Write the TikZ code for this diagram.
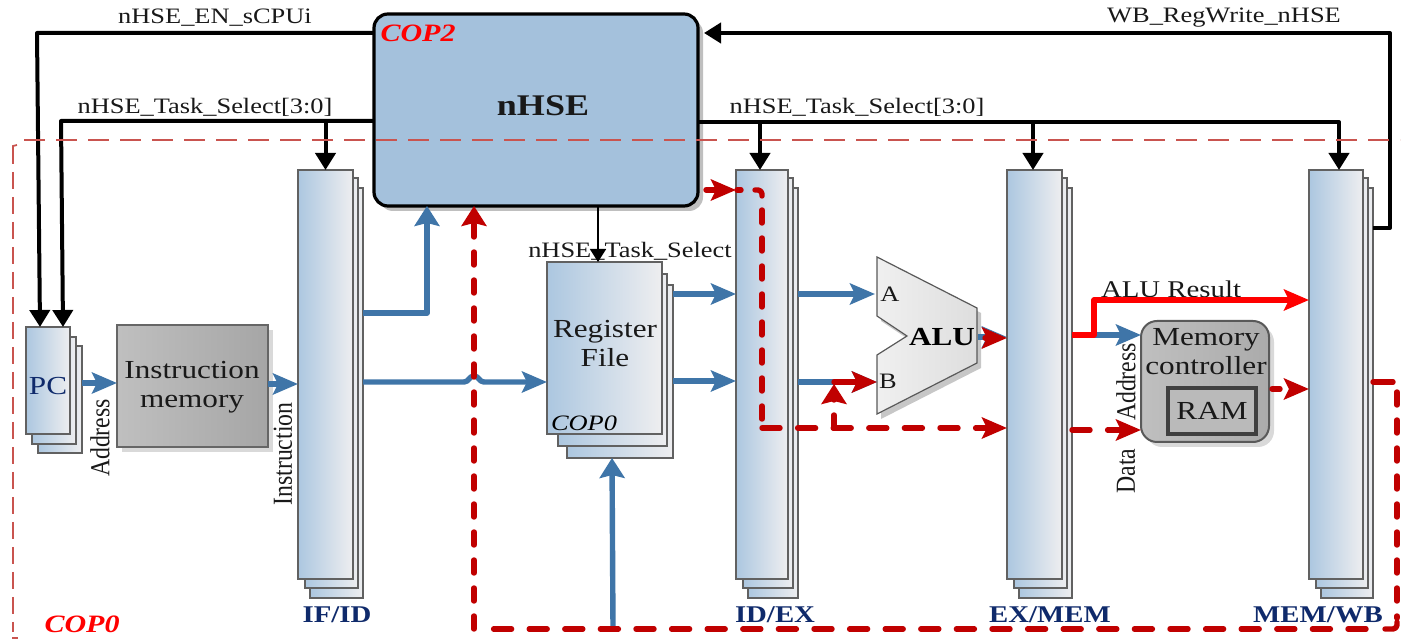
\documentclass[tikz,border=0pt]{standalone}
\usepackage{fontspec}
\setmainfont[FakeStretch=1.2]{Liberation Serif}
\newfontfamily\plainf{Liberation Serif}
\usetikzlibrary{arrows.meta,shadows}
\definecolor{bluearrow}{HTML}{3F75A8}
\definecolor{darkred}{HTML}{C00000}
\definecolor{purered}{HTML}{FF0000}
\definecolor{borderred}{HTML}{C9544F}
\definecolor{navy}{HTML}{0F2A6B}
\definecolor{nhsefill}{HTML}{A4C1DC}
\definecolor{regleft}{HTML}{ACC7E0}
\definecolor{regright}{HTML}{EEEEF0}
\newcommand{\bx}[6][]{%
  \pgfmathsetmacro{\bw}{((#4)-(#2))*0.5}\pgfmathsetmacro{\bh}{((#5)-(#3))*0.5}%
  \pgfmathsetmacro{\bcx}{((#4)+(#2))/2}\pgfmathsetmacro{\bcy}{((#5)+(#3))/2}%
  \node[minimum width=\bw pt,minimum height=\bh pt,inner sep=0pt,outer sep=0pt,#1] (#6) at (\bcx,\bcy) {};}
\newcommand{\stk}[3]{%
  \bx[layer]{#2+12}{188}{#2+#3+10}{598}{#1c}
  \bx[layer]{#2+7}{178}{#2+#3+5}{588}{#1b}
  \bx[layer]{#2}{170}{#2+#3}{579}{#1}}
\newcommand{\rottext}[1]{\plainf\scalebox{1.08}[1.25]{#1}}
\tikzset{
  layer/.style={draw=black!62,line width=0.7pt,left color=regleft,right color=regright},
  graybox/.style={draw=black!60,line width=0.6pt,left color=black!25,right color=black!35,drop shadow={shadow xshift=2.5pt,shadow yshift=-2.5pt,opacity=1,fill=black!15}},
  lbl/.style={font=\fontsize{11pt}{12pt}\selectfont,inner sep=0pt,text=black!90},
  big/.style={font=\fontsize{13pt}{14.5pt}\selectfont,inner sep=0pt,align=center,text=black!90},
  stage/.style={font=\fontsize{12pt}{13pt}\selectfont\bfseries,inner sep=0pt,text=navy},
  cop/.style={font=\fontsize{12.5pt}{13pt}\selectfont\bfseries\itshape,inner sep=0pt,text=purered},
  blk/.style={draw=black,line width=2pt,line join=round,-{Triangle[length=8.5pt,width=10pt]}},
  blu/.style={draw=bluearrow,line width=2.7pt,line join=round,-{Stealth[length=12.5pt,width=10.5pt,inset=2.5pt]}},
  bluv/.style={draw=bluearrow,line width=2.7pt,line join=round,-{Stealth[length=10pt,width=12.5pt,inset=1.5pt]}},
  rd/.style={draw=purered,line width=2.7pt,line join=round,-{Stealth[length=12.5pt,width=10.5pt,inset=2.5pt]}},
  drbase/.style={draw=darkred,line width=2.7pt,line join=round,line cap=round},
  drv/.style={drbase,dash pattern=on 6.5pt off 7.5pt},
  drh/.style={drbase,dash pattern=on 9pt off 8.8pt},
  redhead/.style={-{Stealth[length=12.5pt,width=10.5pt,inset=2.5pt,color=darkred]}},
  redheadv/.style={-{Stealth[length=10pt,width=12.5pt,inset=1.5pt,color=darkred]}},
  bordline/.style={draw=borderred,line width=0.9pt},
}
\begin{document}
\begin{tikzpicture}[x=0.5pt,y=-0.5pt]
\useasboundingbox (0,0) rectangle (1408,640);
% registers
\bx[layer]{38}{346}{82}{453}{pcc}
\bx[layer]{32}{337}{76}{444}{pcb}
\bx[layer]{26}{327}{70}{434}{pc}
\stk{ifid}{298}{55}
\stk{idex}{736}{52}
\stk{exmem}{1007}{55}
\stk{memwb}{1309}{54}
\bx[layer]{567}{285}{673}{458}{rfc}
\bx[layer]{558}{274}{667}{446}{rfb}
\bx[layer]{547}{262}{662}{434}{rf}
\bx[graybox]{117}{325}{268}{447}{imem}
% nHSE
\bx[draw=black,line width=1.6pt,rounded corners=7pt,fill=nhsefill,drop shadow={shadow xshift=2.5pt,shadow yshift=-2.5pt,opacity=1,fill=black!25}]{374}{14}{698}{206}{nhse}
% ALU
\fill[black!22] (881,262) -- (981,313) -- (981,368) -- (881,419) -- (881,360) -- (911,341) -- (881,321) -- cycle;
\shade[left color=black!6,right color=black!13,draw=black!65,line width=0.6pt] (877,257) -- (977,308) -- (977,363) -- (877,414) -- (877,355) -- (907,336) -- (877,316) -- cycle;
\coordinate (aluA) at (875,294);
\coordinate (aluB) at (877,382);
\coordinate (aluOut) at (978,337);
% Memory controller
\bx[draw=black!65,line width=1pt,rounded corners=8pt,left color=black!25,right color=black!33,drop shadow={shadow xshift=2.5pt,shadow yshift=-2.5pt,opacity=1,fill=black!15}]{1141}{321}{1269}{442}{mc}
\bx[draw=black!75,line width=1.6pt,fill=black!27]{1168}{388}{1256}{434}{ram}
% labels
\node[lbl] (l1) at (215,18) {nHSE\_EN\_sCPUi};
\node[lbl] (l2) at (205,107) {nHSE\_Task\_Select[3:0]};
\node[lbl] (l3) at (857,107) {nHSE\_Task\_Select[3:0]};
\node[lbl] (l4) at (1224,18) {WB\_RegWrite\_nHSE};
\node[lbl] (l5) at (630,251) {nHSE\_Task\_Select};
\node[cop] (c2) at (418,33) {COP2};
\node[cop] (c0) at (82,624) {COP0};
\node[font=\fontsize{15pt}{16pt}\selectfont\bfseries,inner sep=0pt,text=black!90] (nh) at (543,106) {nHSE};
\node[stage] (s1) at (337,615) {IF/ID};
\node[stage] (s2) at (775,615) {ID/EX};
\node[stage] (s3) at (1050,615) {EX/MEM};
\node[stage] (s4) at (1318,615) {MEM/WB};
\node[big,text=navy] (pct) at (48,386) {PC};
\node[lbl,rotate=90] (a1) at (100,438) {\rottext{Address}};
\node[lbl,rotate=90] (i1) at (283,454) {\rottext{Instruction}};
\node[big] (imt) at (192,387) {Instruction\\memory};
\node[big] (rft) at (605,344) {Register\\File};
\node[font=\fontsize{11pt}{12pt}\selectfont\itshape,inner sep=0pt] (rfc0) at (584,423) {COP0};
\node[font=\fontsize{13pt}{14pt}\selectfont\bfseries,inner sep=0pt] (alut) at (942,337) {ALU};
\node[lbl] (la) at (890,294) {A};
\node[lbl] (lb) at (888,381) {B};
\node[lbl,font=\fontsize{12pt}{13pt}\selectfont] (lr) at (1171,289) {ALU Result};
\node[big] (mct) at (1206,352) {Memory\\controller};
\node[big] (ramt) at (1212,411) {RAM};
\node[lbl,rotate=90] (a2) at (1126,382) {\rottext{Address}};
\node[lbl,rotate=90] (d2) at (1126,471) {\rottext{Data}};
% black connectors
\coordinate (busA) at (760,122);
\coordinate (busB) at (1033,122);
\draw[blk] (nhse.west |- 0,33) -- (37,33) -- (pc.north -| 40,0);
\draw[blk] (nhse.west |- 0,121) -- (61,121) -- (pc.north -| 63,0);
\draw[blk] (ifid.north |- 0,121) -- (ifid.north);
\draw[blk] (nhse.east |- 0,122) -- (1339,122) -- (memwb.north -| 1339,0);
\draw[blk] (busA) -- (idex.north -| busA);
\draw[blk] (busB) -- (exmem.north -| busB);
\draw[blk,shorten >=3pt] (memwbc.east |- 0,228) -- (1390,228) -- (1390,33) -- (nhse.east |- 0,33);
\draw[draw=black,line width=0.9pt,-{Triangle[length=6.5pt,width=8pt]}] (nhse.south -| 598,0) -- (rf.north -| 598,0);
% blue connectors
\draw[blu] (pcc.east |- 0,383) -- (imem.west |- 0,383);
\draw[blu] (imem.east |- 0,384) -- (ifid.west |- 0,384);
\draw[bluv] (ifidc.east |- 0,313) -- (427,313) -- (nhse.south -| 427,0);
\draw[blu] (ifidc.east |- 0,382) -- (464,382) .. controls (469,382) and (469,376) .. (474,376) .. controls (479,376) and (479,382) .. (484,382) -- (rf.west |- 0,382);
\draw[blu] (rfc.east |- 0,294) -- (idex.west |- 0,294);
\draw[blu] (rfc.east |- 0,381) -- (idex.west |- 0,381);
\draw[blu] (idexc.east |- 0,294) -- (aluA);
\draw[blu] (idexc.east |- 0,382) -- (aluB);
\draw[bluv] (613,629) -- (rfc.south -| 612,0);
\draw[blu] (aluOut) -- (exmem.west |- 0,337);
\draw[blu] (1094,335) -- (mc.west |- 0,335);
% red connectors
\draw[rd] (exmemc.east |- 0,335) -- (1094,335) -- (1094,300) -- (memwb.west |- 0,300);
% dark red connectors
\draw[drbase,redhead] (985,338) -- (exmem.west |- 0,338);
\draw[drbase,redhead] (834,382) -- (aluB);
\draw[drbase,redhead] (706,190) -- (idex.west |- 0,190);
\draw[drbase] (737,190) -- (741,190);
\draw[drbase,rounded corners=2pt] (755,190) -- (762,190) -- (762,196);
\draw[drv] (762,210) -- (762,428);
\draw[drh,redhead] (762,428) -- (exmem.west |- 0,428);
\draw[drv,redheadv] (834,428) -- (834,384);
\draw[drh,redhead] (exmemc.east |- 0,430) -- (mc.west |- 0,430);
\draw[drbase,redhead,dash pattern=on 4pt off 10pt,shorten <=1.5pt] (mc.east |- 0,389) -- (memwb.west |- 0,389);
\draw[drbase] (memwbc.east |- 0,382) -- (1393,382);
\draw[drv] (1397,392) -- (1397,618);
\draw[drbase,rounded corners=2pt] (1397,622) -- (1397,629) -- (1385,629);
\draw[drh] (1366,629) -- (478,629);
\draw[drv,redheadv] (474,629) -- (nhse.south -| 474,0);
% COP0 boundary
\draw[bordline,dash pattern=on 10.5pt off 5.5pt] (24,140) -- (1400,140);
\draw[bordline,dash pattern=on 8.5pt off 4pt] (13,147) -- (13,632);
\draw[bordline] (13,151) -- (13,146) -- (17,145);
\draw[bordline] (12,638) -- (18,638);
\end{tikzpicture}
\end{document}
